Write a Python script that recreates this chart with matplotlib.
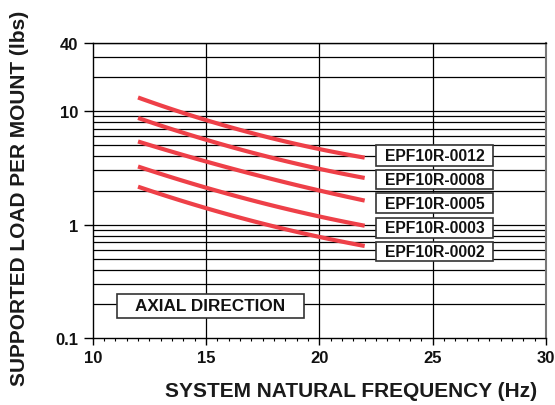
import matplotlib
matplotlib.use("Agg")
import matplotlib.pyplot as plt
import numpy as np
from matplotlib.ticker import FixedLocator, NullFormatter, MultipleLocator
from matplotlib.patches import Rectangle

plt.rcParams['font.family'] = ['Liberation Sans', 'DejaVu Sans']
plt.rcParams['font.weight'] = 'bold'

freq = [12, 15, 20, 22]
series_names = ["EPF10R-0012", "EPF10R-0008", "EPF10R-0005", "EPF10R-0003", "EPF10R-0002"]
load_0012 = [13.2, 8.3, 4.66, 3.88]
load_0008 = [8.7, 5.6, 3.10, 2.58]
load_0005 = [5.4, 3.6, 2.0, 1.63]
load_0003 = [3.25, 2.12, 1.18, 0.98]
load_0002 = [2.16, 1.40, 0.78, 0.65]
series = [load_0012, load_0008, load_0005, load_0003, load_0002]
yticks = [0.1, 1, 10, 40]
ytick_labels = ['0.1', '1', '10', '40']

# label box extents (layout)
box_x = (22.5, 27.66)
box_y = [(3.27, 5.05), (2.07, 3.06), (1.27, 1.89), (0.763, 1.153), (0.481, 0.70)]
axial_x = (11.06, 19.33)
axial_y = (0.152, 0.244)

fig = plt.figure(figsize=(5.55, 4.06), dpi=100)
ax = fig.add_axes([92.7 / 555, 1 - 339.3 / 406, (546 - 92.7) / 555, (339.3 - 43.7) / 406])
ax.set_yscale('log')
ax.set_xlim(10, 30)
ax.set_ylim(0.1, 40)

# grid
minor_y = [v * d for d in (0.1, 1, 10) for v in range(2, 10) if v * d <= 40]
for yv in minor_y + [1, 10]:
    ax.axhline(yv, color='black', lw=0.9, zorder=1)
for xv in [15, 20, 25]:
    ax.axvline(xv, color='black', lw=0.9, zorder=1)

for s in series:
    xs = np.array(freq, dtype=float)
    c = np.polyfit(xs, np.log10(s), 2)
    xf = np.linspace(12, 22, 60)
    ax.plot(xf, 10 ** np.polyval(c, xf), color='#ee4048', lw=3.0,
            solid_capstyle='butt', zorder=3)

def gmean(a, b):
    return np.sqrt(a * b)

for name, (y0, y1) in zip(series_names, box_y):
    ax.add_patch(Rectangle((box_x[0], y0), box_x[1] - box_x[0], y1 - y0,
                           fc='white', ec='#333333', lw=1.2, zorder=5))
    ax.text((box_x[0] + box_x[1]) / 2, gmean(y0, y1), name, ha='center', va='center',
            fontsize=11.3, fontweight='bold', zorder=6, color='#111111')

ax.add_patch(Rectangle((axial_x[0], axial_y[0]), axial_x[1] - axial_x[0], axial_y[1] - axial_y[0],
                       fc='white', ec='#333333', lw=1.2, zorder=5))
ax.text((axial_x[0] + axial_x[1]) / 2, gmean(*axial_y), "AXIAL DIRECTION", ha='center', va='center',
        fontsize=12.3, fontweight='bold', zorder=6, color='#111111')

ax.yaxis.set_major_locator(FixedLocator(yticks))
ax.set_yticklabels(ytick_labels)
ax.yaxis.set_minor_locator(FixedLocator([]))
ax.yaxis.set_minor_formatter(NullFormatter())
ax.xaxis.set_major_locator(MultipleLocator(5))
ax.xaxis.set_minor_locator(MultipleLocator(0.5))
ax.tick_params(axis='y', which='major', labelsize=12, width=1, length=6.5, pad=4, direction='out')
ax.tick_params(axis='x', which='major', labelsize=12, width=1, length=5, pad=3.5, direction='out')
ax.tick_params(axis='x', which='minor', length=2.5, width=0.8, direction='out')
for lab in ax.get_xticklabels() + ax.get_yticklabels():
    lab.set_fontweight('bold')
    lab.set_color('#111111')
for sp in ax.spines.values():
    sp.set_linewidth(1.0)
    sp.set_zorder(7)
ax.spines['right'].set_color('#777777')
ax.spines['right'].set_linewidth(1.5)

fig.text(351.5 / 555, 1 - 391.5 / 406, "SYSTEM NATURAL FREQUENCY (Hz)", ha='center', va='center',
         fontsize=15, fontweight='bold', color='#1a1a1a')
fig.text(20 / 555, 1 - 198 / 406, "SUPPORTED LOAD PER MOUNT (lbs)", ha='center', va='center',
         rotation=90, fontsize=15, fontweight='bold', color='#1a1a1a')

fig.savefig("out.png", dpi=100)
